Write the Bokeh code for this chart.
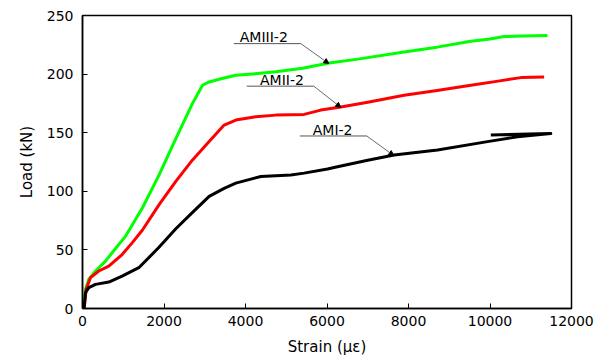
from bokeh.plotting import figure
from bokeh.models import Range1d, FixedTicker, Label, Arrow, NormalHead
from bokeh.embed import file_html
from bokeh.resources import INLINE

# ---- data ----
green_x = [20, 24, 73, 155, 319, 564, 727, 1063, 1472, 1880, 2290, 2700, 2945, 3108, 3400, 3762,
           4300, 4743, 5400, 6052, 6800, 7892, 8700, 9529, 10000, 10346, 10800, 11411]
green_y = [0, 6, 16.4, 25, 32, 40.4, 47.6, 62, 86, 114, 145, 175, 190.5, 193.3, 196, 199,
           200.5, 202, 205, 209.5, 213, 218.8, 223, 228, 230, 232, 232.5, 233]

red_x = [40, 90, 196, 400, 645, 972, 1218, 1472, 1880, 2290, 2700, 3108, 3476, 3762, 4252, 4743,
         5438, 5848, 6339, 7000, 7892, 8700, 9529, 10200, 10756, 11328]
red_y = [0, 16.4, 26.3, 32, 36.2, 46, 56, 67, 88.6, 108.4, 126.8, 142.4, 156.5, 160.8, 163.6, 165,
         165.6, 169.3, 172, 176, 182, 186, 190.5, 194, 197, 197.6]

black_x = [40, 73, 155, 319, 645, 972, 1382, 1872, 2290, 2700, 3108, 3476, 3762, 4376, 5112, 5438,
           6012, 6257, 7000, 7647, 8712, 9939, 10675, 11492, 10020]
black_y = [0, 13.6, 17.8, 20.6, 22.6, 27.7, 34.8, 52, 68, 82, 95.7, 102.5, 107, 112.6, 114, 115.5,
           119, 121, 126.5, 131, 135.3, 142.4, 146.6, 149.3, 148]

x_ticks = [0, 2000, 4000, 6000, 8000, 10000, 12000]
y_ticks = [0, 50, 100, 150, 200, 250]

# annotation positions: (label, text_x, text_y, line_x0, line_x1, line_y, arrow_x, arrow_y)
annots = [
    ("AMIII-2", 3860, 231.3, 3713, 5357, 226.0, 6044, 209.0),
    ("AMII-2", 4356, 194.8, 4032, 5676, 189.7, 6339, 171.6),
    ("AMI-2", 5650, 152.2, 5333, 6977, 147.2, 7639, 130.5),
]

FONT = "DejaVu Sans"

p = figure(width=609, height=358, output_backend="svg", toolbar_location=None,
           x_range=Range1d(0, 12000), y_range=Range1d(0, 250),
           min_border_left=82, min_border_right=38, min_border_top=15, min_border_bottom=49)

p.grid.visible = False
p.outline_line_color = "black"
p.outline_line_width = 1.5
p.background_fill_color = "white"
p.border_fill_color = "white"

p.line(green_x, green_y, line_color="#00FF00", line_width=3, line_join="round")
p.line(red_x, red_y, line_color="#FF0000", line_width=3, line_join="round")
p.line(black_x, black_y, line_color="black", line_width=3, line_join="round")

for name, tx, ty, lx0, lx1, ly, ax, ay in annots:
    p.add_layout(Label(x=tx, y=ty, text=name, text_font=FONT, text_font_size="14px",
                       text_baseline="middle", text_align="left", text_color="black"))
    p.segment(x0=[lx0], y0=[ly], x1=[lx1], y1=[ly], line_color="#555555", line_width=1)
    p.add_layout(Arrow(x_start=lx1, y_start=ly, x_end=ax, y_end=ay,
                       line_color="#444444", line_width=0.8,
                       end=NormalHead(size=5, fill_color="black", line_color="black")))

for ax_ in (p.xaxis[0], p.yaxis[0]):
    ax_.axis_line_color = "black"
    ax_.axis_line_width = 1.5
    ax_.major_tick_in = 5
    ax_.major_tick_out = 0
    ax_.minor_tick_in = 0
    ax_.minor_tick_out = 0
    ax_.major_tick_line_color = "black"
    ax_.major_tick_line_width = 1
    ax_.major_label_text_font = FONT
    ax_.major_label_text_font_size = "14px"
    ax_.major_label_text_color = "black"
    ax_.axis_label_text_font = FONT
    ax_.axis_label_text_font_size = "15px"
    ax_.axis_label_text_font_style = "normal"
    ax_.axis_label_text_color = "black"

p.xaxis.ticker = FixedTicker(ticks=x_ticks)
p.yaxis.ticker = FixedTicker(ticks=y_ticks)
p.xaxis.axis_label = "Strain (\u03bc\u03b5)"
p.yaxis.axis_label = "Load (kN)"
p.xaxis.major_label_standoff = 7
p.yaxis.major_label_standoff = 9
p.xaxis.axis_label_standoff = 9
p.yaxis.axis_label_standoff = 8

open("out.html", "w").write(file_html(p, INLINE))
